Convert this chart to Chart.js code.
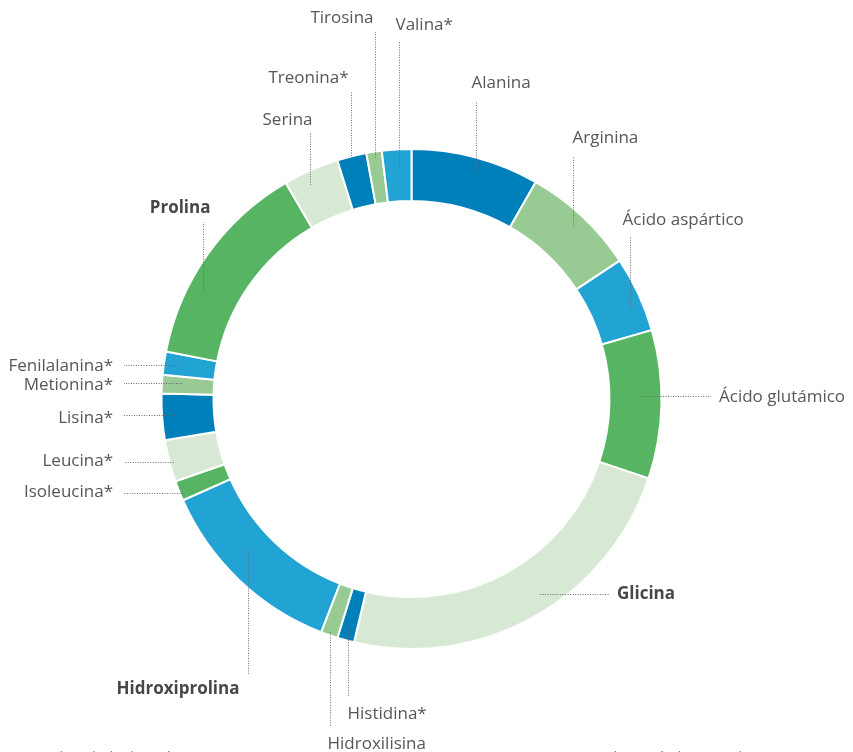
<!DOCTYPE html>
<html>
<head>
<meta charset="utf-8">
<script src="https://cdn.jsdelivr.net/npm/chart.js@4/dist/chart.umd.min.js"></script>
<style>
  body { margin: 0; background: #fff; }
  #wrap { position: relative; width: 853px; height: 752px; overflow: hidden; }
  .nota { position: absolute; top: 748px; font: 12px "Open Sans", sans-serif; color: #666; white-space: nowrap; }
</style>
</head>
<body>
<div id="wrap">
  <canvas id="chart" width="853" height="752"></canvas>
  <div class="nota" style="left:48px">Adaptado de: datos técnicos COLLAGEN</div>
  <div class="nota" style="left:612px">* Aminoácidos esenciales</div>
</div>
<script>
// composición de aminoácidos (g / 100 g)
const aminoacidos = ['Alanina', 'Arginina', 'Ácido aspártico', 'Ácido glutámico', 'Glicina',
  'Histidina*', 'Hidroxilisina', 'Hidroxiprolina', 'Isoleucina*', 'Leucina*', 'Lisina*',
  'Metionina*', 'Fenilalanina*', 'Prolina', 'Serina', 'Treonina*', 'Tirosina', 'Valina*'];
const porcentajes = [8.3, 7.4, 4.9, 9.6, 23.6, 1.1, 1.1, 12.5, 1.3, 2.7, 3.0, 1.2, 1.5, 13.6, 3.6, 1.9, 1.0, 1.9];
const destacados = ['Glicina', 'Hidroxiprolina', 'Prolina'];
const paleta = ['#0080ba', '#98ca93', '#21a3d4', '#56b463', '#d7e9d5'];

// dónde va cada rótulo: dirección de la guía, coordenada final, punto sobre el arco (a, r)
const etiquetas = [
  { dir: 'up',    fin: 102, a: 0.53, align: 'left',  dx: -5,  dy: -14 },
  { dir: 'up',    fin: 157, a: 0.50, align: 'left',  dx: -1,  dy: -14 },
  { dir: 'up',    fin: 237, a: 0.63, align: 'left',  dx: -8,  dy: -12 },
  { dir: 'right', fin: 711, a: 0.44, align: 'left',  dx: 8,   dy: 5, r: 229 },
  { dir: 'right', fin: 610, a: 0.45, align: 'left',  dx: 7,   dy: 4, r: 234 },
  { dir: 'down',  fin: 697, a: 0.56, align: 'left',  dx: -1,  dy: 22 },
  { dir: 'down',  fin: 726, a: 0.50, align: 'left',  dx: -3,  dy: 23, r: 247 },
  { dir: 'down',  fin: 674, a: 0.58, align: 'right', dx: -9,  dy: 20, r: 223 },
  { dir: 'left',  fin: 124, a: 0.35, align: 'right', dx: -11, dy: 3, r: 247 },
  { dir: 'left',  fin: 124, a: 0.45, align: 'right', dx: -11, dy: 3, r: 246 },
  { dir: 'left',  fin: 124, a: 0.52, align: 'right', dx: -11, dy: 7 },
  { dir: 'left',  fin: 124, a: 0.62, align: 'right', dx: -11, dy: 6, r: 230 },
  { dir: 'left',  fin: 124, a: 0.51, align: 'right', dx: -11, dy: 5 },
  { dir: 'up',    fin: 222, a: 0.33, align: 'right', dx: 7,   dy: -9, r: 234 },
  { dir: 'up',    fin: 132, a: 0.37, align: 'right', dx: 2,   dy: -7 },
  { dir: 'up',    fin: 92,  a: 0.43, align: 'right', dx: -3,  dy: -9, r: 243 },
  { dir: 'up',    fin: 32,  a: 0.50, align: 'right', dx: -2,  dy: -9, r: 244 },
  { dir: 'up',    fin: 41,  a: 0.56, align: 'left',  dx: -4,  dy: -11, r: 231 }
];

// rótulos con guía punteada
const guias = {
  id: 'guias',
  afterDatasetsDraw(chart) {
    const ctx = chart.ctx;
    const arcos = chart.getDatasetMeta(0).data;
    ctx.save();
    arcos.forEach((arco, i) => {
      const e = etiquetas[i];
      const p = arco.getProps(['x', 'y', 'startAngle', 'endAngle'], true);
      const r = e.r || 237;
      const ang = p.startAngle + (p.endAngle - p.startAngle) * e.a;
      let x0 = p.x + r * Math.cos(ang);
      let y0 = p.y + r * Math.sin(ang);
      let x1 = x0, y1 = y0;
      if (e.dir == 'up' || e.dir == 'down') {
        x0 = x1 = Math.round(x0) + 0.5;
        y1 = e.fin;
      } else {
        y0 = y1 = Math.round(y0) + 0.5;
        x1 = e.fin;
      }
      ctx.beginPath();
      ctx.setLineDash([1, 1.5]);
      ctx.strokeStyle = '#6a6a6a';
      ctx.lineWidth = 1;
      ctx.moveTo(x0, y0);
      ctx.lineTo(x1, y1);
      ctx.stroke();
      ctx.setLineDash([]);

      const negrita = destacados.includes(aminoacidos[i]);
      ctx.font = (negrita ? '700 ' : '') + '17px "Open Sans"';
      ctx.fillStyle = negrita ? '#474747' : '#575757';
      ctx.textAlign = e.align;
      ctx.textBaseline = 'alphabetic';
      ctx.fillText(aminoacidos[i], x1 + e.dx, y1 + e.dy);
    });
    ctx.restore();
  }
};

new Chart(document.getElementById('chart'), {
  type: 'doughnut',
  data: {
    labels: aminoacidos,
    datasets: [{
      data: porcentajes,
      backgroundColor: aminoacidos.map((_, i) => paleta[i % paleta.length]),
      borderColor: '#fff',
      borderWidth: 2
    }]
  },
  options: {
    responsive: false,
    animation: false,
    radius: 250,
    cutout: '79.2%',
    layout: { padding: { left: 100, right: 130, top: 100, bottom: 54 } },
    plugins: {
      legend: { display: false },
      tooltip: { enabled: false }
    }
  },
  plugins: [guias]
});
</script>
</body>
</html>
